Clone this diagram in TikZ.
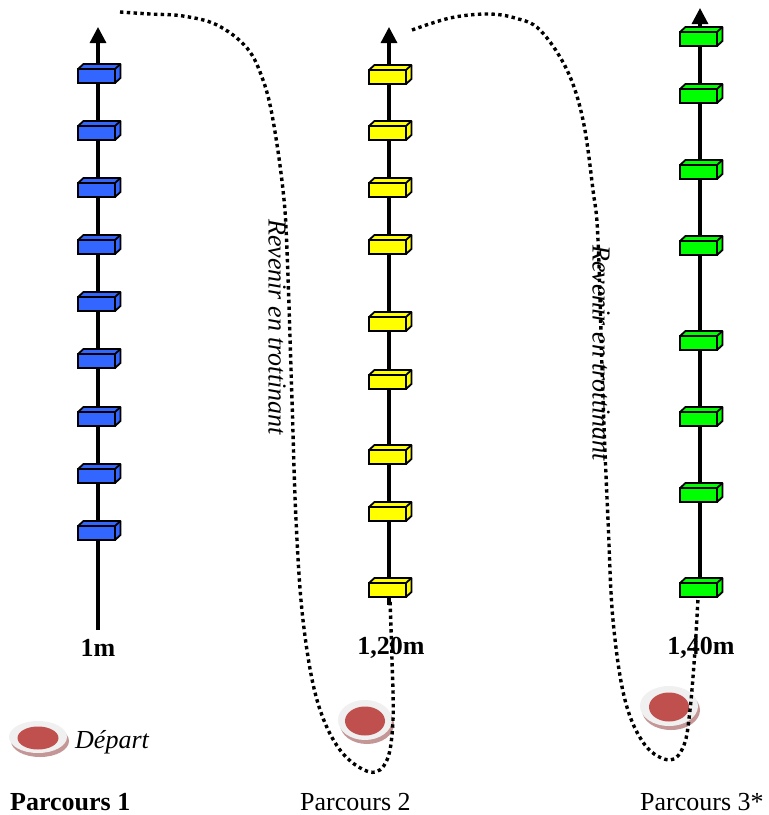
\documentclass[tikz,border=0pt]{standalone}
\usepackage{fontspec}
\setmainfont{Liberation Serif}
\usetikzlibrary{arrows.meta}
\definecolor{blueblk}{RGB}{51,102,255}
\definecolor{yellowblk}{RGB}{255,255,0}
\definecolor{greenblk}{RGB}{0,255,0}
\definecolor{discred}{RGB}{192,80,77}
\definecolor{discwhite}{RGB}{240,240,240}
\definecolor{discshadow}{RGB}{196,150,150}
\newcommand\hurdle[4]{%
  \node[hurdlefront, fill=#4] (#1) at (#2,#3) {};
  \draw[hurdleedge, fill=#4] (#1.north west) -- ([shift={(5.5,-5)}]#1.north west)
     -- ([shift={(5.5,-5)}]#1.north east) -- ([shift={(5.5,-5)}]#1.south east)
     -- (#1.south east) -- (#1.north east) -- cycle;
  \draw[hurdleedge] (#1.north east) -- ([shift={(5.5,-5)}]#1.north east);
}
\newcommand\plate[7]{% name, x, y, outer rx, outer ry, red rx, red ry
  \coordinate (#1) at (#2,#3);
  \fill[discshadow] ([shift={(2,4)}]#1) ellipse [x radius=#4, y radius=#5];
  \fill[discwhite] (#1) ellipse [x radius=#4, y radius=#5];
  \fill[discred] ([shift={(0,1)}]#1) ellipse [x radius=#6, y radius=#7];
}
\begin{document}
\begin{tikzpicture}[x=1pt,y=-1pt,
  hurdlefront/.style={draw=black, line width=1.8pt, rectangle, minimum width=37pt, minimum height=14pt, inner sep=0pt, outer sep=0pt},
  hurdleedge/.style={draw=black, line width=1.8pt, line join=round},
  pole/.style={line width=3.2pt, -{Triangle[width=16pt,length=16pt]}},
  trail/.style={line width=3.4pt, dash pattern=on 3.4pt off 3.4pt},
  lbl/.style={font=\fontsize{26}{30}\selectfont\bfseries, inner sep=0pt},
  captxt/.style={font=\fontsize{26}{30}\selectfont, inner sep=0pt, anchor=base west},
  note/.style={font=\fontsize{26}{30}\selectfont\itshape, inner sep=0pt, rotate=-90}
]
\useasboundingbox (0,0) rectangle (769,815);
\fill[white] (0,0) rectangle (769,815);

% poles
\coordinate (bbot) at (98,630);  \coordinate (btop) at (98,27);
\coordinate (ybot) at (389,605); \coordinate (ytop) at (389,27);
\coordinate (gbot) at (700,588); \coordinate (gtop) at (700,8);
\draw[pole] (bbot) -- (btop);
\draw[pole] (ybot) -- (ytop);
\draw[pole] (gbot) -- (gtop);

% blue hurdles
\foreach \y [count=\i] in {76,133,190,247,304,361,419,476,533}
  {\hurdle{b\i}{96.5}{\y}{blueblk}}
% yellow hurdles
\foreach \y [count=\i] in {77,133,190,247,324,382,457,514,590}
  {\hurdle{y\i}{387.5}{\y}{yellowblk}}
% green hurdles
\foreach \y [count=\i] in {39,96,172,248,343,419,495,590}
  {\hurdle{g\i}{698.5}{\y}{greenblk}}

% height labels
\node[lbl] (l1) at (98,648) {1m};
\node[lbl] (l2) at (391,648) {1,20m};
\node[lbl] (l3) at (701,648) {1,40m};

% start plates
\plate{p1}{38}{737}{29}{16}{20.5}{11.5}
\plate{p2}{365}{720}{27}{20}{20}{14.5}
\plate{p3}{669}{706}{29}{20}{20}{14.5}

% notes
\node[note] (n1) at (277,327) {Revenir en trottinant};
\node[note] (n2) at (601,353) {Revenir en trottinant};

% return trails
\draw[trail] plot[smooth, tension=0.6] coordinates {
  (120,12) (150,14) (183,16) (217,25) (247,48) (263,80) (273,120) (283,190)
  (287,250) (292,400) (296,520) (303,620) (317,700) (340,750) (370,772)
  (387,760) (393,720) (392,660) (390,600)};
\draw[trail] plot[smooth, tension=0.6] coordinates {
  (412,30) (450,18) (487,14) (515,18) (540,30) (567,70) (583,120) (593,190)
  (598,240) (603,400) (608,520) (613,620) (625,700) (645,745) (670,760)
  (684,745) (690,710) (695,650) (698,598)};

% captions
\node[font=\fontsize{26}{30}\selectfont\itshape, inner sep=0pt, anchor=base west] (dep) at (75,748) {Départ};
\node[captxt, font=\fontsize{26}{30}\selectfont\bfseries] (c1) at (10,810) {Parcours 1};
\node[captxt] (c2) at (300,810) {Parcours 2};
\node[captxt] (c3) at (640,810) {Parcours 3*};
\end{tikzpicture}
\end{document}
